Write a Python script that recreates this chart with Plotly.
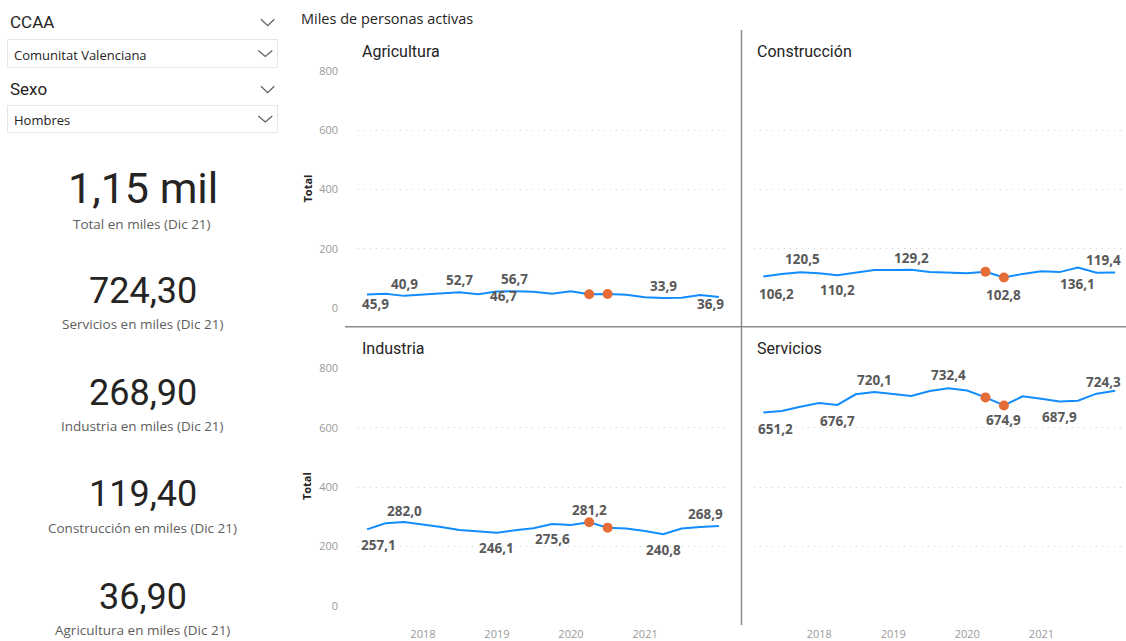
import plotly.graph_objects as go

# ---------------------------------------------------------------------------
# Data: active population (thousands), men, Comunitat Valenciana, by quarter
# ---------------------------------------------------------------------------
QUARTERS = [
    "2017-03-31", "2017-06-30", "2017-09-30", "2017-12-31",
    "2018-03-31", "2018-06-30", "2018-09-30", "2018-12-31",
    "2019-03-31", "2019-06-30", "2019-09-30", "2019-12-31",
    "2020-03-31", "2020-06-30", "2020-09-30", "2020-12-31",
    "2021-03-31", "2021-06-30", "2021-09-30", "2021-12-31",
]

AGRICULTURA = [45.9, 48.3, 40.9, 45.0, 48.3, 52.7, 46.7, 55.5, 56.7, 55.0,
               48.3, 56.3, 46.2, 47.2, 45.0, 36.0, 33.9, 34.2, 43.9, 36.9]
CONSTRUCCION = [106.2, 114.6, 120.5, 116.8, 110.2, 119.0, 128.0, 128.5, 129.2, 121.4,
                119.0, 117.0, 122.4, 102.8, 115.0, 123.5, 121.0, 136.1, 119.0, 119.4]
INDUSTRIA = [257.1, 277.7, 282.0, 274.0, 265.0, 255.0, 251.0, 246.1, 254.0, 260.7,
             275.6, 272.0, 281.2, 263.0, 260.0, 252.0, 240.8, 260.0, 265.0, 268.9]
SERVICIOS = [651.2, 656.0, 670.6, 683.0, 676.7, 712.4, 720.1, 713.4, 706.6, 723.5,
             732.4, 725.0, 702.0, 674.9, 705.6, 697.6, 687.9, 691.0, 714.5, 724.3]

HIGHLIGHT_QUARTERS = ["2020-03-31", "2020-06-30"]

YEAR_TICKS = ["2018", "2019", "2020", "2021"]
Y_TICKS = [0, 200, 400, 600, 800]

CCAA = "Comunitat Valenciana"
SEXO = "Hombres"
PERIODO = "Dic 21"

# ---------------------------------------------------------------------------
# Page geometry helpers (pixels -> paper coordinates)
# ---------------------------------------------------------------------------
W, H = 1126, 641


def px(x):
    return x / W


def py(y):
    return 1 - y / H


BLUE = "#118DFF"
ORANGE = "#E66C37"
TXT = "#252423"
SUB = "#605E5C"
LABEL = "#595959"
TICK = "#9A9A9A"
GRID = "#CFCFCF"

FONT_UI = "Open Sans"
FONT_DIN = "Roboto"


def fmt(v, dec=1):
    return f"{v:.{dec}f}".replace(".", ",")


# panel name, series, axis suffix, x-domain px, y-domain px (top, bottom), title pos,
# label placements (point index, x shift, y shift)
PANELS = [
    ("Agricultura", AGRICULTURA, "", (358, 725), (70.7, 308.0), (360, 51),
     [(0, 9, -10), (2, 0, 12), (5, 0, 12), (6, 25, -2), (8, 0, 12), (16, 0, 12), (19, -8, -7)]),
    ("Construcción", CONSTRUCCION, "2", (754.3, 1121.3), (70.7, 308.0), (755, 51),
     [(0, 13, -17), (2, 2, 13), (4, 0, -15), (8, 0, 12), (13, 0, -17), (17, 0, -16), (19, -12, 13)]),
    ("Industria", INDUSTRIA, "3", (358, 725), (368.3, 605.7), (360, 348),
     [(0, 12, -16), (2, 0, 11), (7, 0, -15), (10, 0, -15), (12, 0, 12), (16, 0, -16), (19, -13, 12)]),
    ("Servicios", SERVICIOS, "4", (754.3, 1121.3), (368.3, 605.7), (755, 348),
     [(0, 12, -17), (4, 0, -16), (6, 0, 12), (10, 0, 13), (13, 0, -15), (16, 0, -15), (19, -12, 9)]),
]

X_RANGE = ["2017-02-14 14:00", "2022-01-30"]

fig = go.Figure()
annotations = []
shapes = []
layout_axes = {}

for name, series, sfx, xdom, ydom, tpos, labels in PANELS:
    xa = "x" + sfx
    ya = "y" + sfx
    fig.add_trace(go.Scatter(
        x=QUARTERS, y=series, mode="lines",
        line=dict(color=BLUE, width=2),
        xaxis=xa, yaxis=ya, hoverinfo="skip", cliponaxis=False,
    ))
    hx = [q for q in QUARTERS if q in HIGHLIGHT_QUARTERS]
    hy = [v for q, v in zip(QUARTERS, series) if q in HIGHLIGHT_QUARTERS]
    fig.add_trace(go.Scatter(
        x=hx, y=hy, mode="markers",
        marker=dict(color=ORANGE, size=10, line=dict(width=0)),
        xaxis=xa, yaxis=ya, hoverinfo="skip", cliponaxis=False,
    ))

    left_col = xdom[0] < 400
    bottom_row = ydom[1] > 400
    layout_axes["xaxis" + sfx] = dict(
        domain=[px(xdom[0]), px(xdom[1])],
        anchor=ya, type="date", range=X_RANGE,
        showgrid=False, zeroline=False, showline=False,
        tickvals=[f"{y}-01-01" for y in YEAR_TICKS], ticktext=YEAR_TICKS,
        showticklabels=bottom_row, ticks="",
        tickfont=dict(family=FONT_UI, size=11, color=TICK),
        ticklabelstandoff=20,
    )
    layout_axes["yaxis" + sfx] = dict(
        domain=[py(ydom[1]), py(ydom[0])],
        anchor=xa, range=[0, 800],
        tickvals=Y_TICKS, ticktext=[str(t) for t in Y_TICKS],
        showgrid=True, gridcolor=GRID, griddash="1px,5px", gridwidth=1,
        zeroline=False, showline=False, ticks="",
        showticklabels=left_col,
        tickfont=dict(family=FONT_UI, size=11, color=TICK),
        ticklabelstandoff=19,
    )

    # panel title
    annotations.append(dict(
        x=px(tpos[0]), y=py(tpos[1]), xref="paper", yref="paper",
        text=name, showarrow=False, xanchor="left", yanchor="middle",
        font=dict(family=FONT_DIN, size=16, color=TXT),
    ))

    # data labels
    for idx, dx, dy in labels:
        annotations.append(dict(
            x=QUARTERS[idx], y=series[idx], xref=xa, yref=ya,
            text=f"<b>{fmt(series[idx])}</b>", showarrow=False,
            xanchor="center", yanchor="middle", xshift=dx, yshift=dy,
            font=dict(family=FONT_UI, size=13.5, color=LABEL),
        ))

    # y-axis title on the left column
    if left_col:
        annotations.append(dict(
            x=px(306.5), y=py(ydom[0] + 118.3),
            xref="paper", yref="paper", text="<b>Total</b>", showarrow=False,
            textangle=-90, xanchor="center", yanchor="middle",
            font=dict(family=FONT_UI, size=11, color=TXT),
        ))

# chart title
annotations.append(dict(
    x=px(299), y=py(18), xref="paper", yref="paper",
    text="Miles de personas activas", showarrow=False,
    xanchor="left", yanchor="middle",
    font=dict(family=FONT_UI, size=14.5, color=TXT),
))

# panel dividers
shapes.append(dict(type="line", xref="paper", yref="paper",
                   x0=px(741.5), x1=px(741.5), y0=py(30), y1=py(625),
                   line=dict(color="#8C8C8C", width=1.5)))
shapes.append(dict(type="line", xref="paper", yref="paper",
                   x0=px(345), x1=px(1126), y0=py(326.8), y1=py(326.8),
                   line=dict(color="#8C8C8C", width=1.5)))

# ---------------------------------------------------------------------------
# Slicers
# ---------------------------------------------------------------------------


def chevron(x0, x1, ytop, ybot):
    xm = (x0 + x1) / 2
    return dict(type="path", xref="paper", yref="paper",
                path=f"M {px(x0)},{py(ytop)} L {px(xm)},{py(ybot)} L {px(x1)},{py(ytop)}",
                line=dict(color=SUB, width=1.2))


for title, value, ty, box in [("CCAA", CCAA, 22, (39.5, 67.5)),
                              ("Sexo", SEXO, 89, (105.5, 132.5))]:
    annotations.append(dict(
        x=px(8), y=py(ty), xref="paper", yref="paper", text=title,
        showarrow=False, xanchor="left", yanchor="middle",
        font=dict(family=FONT_DIN, size=17, color=TXT),
    ))
    shapes.append(chevron(261, 274.3, ty - 2.7, ty + 3.7))
    shapes.append(dict(type="rect", xref="paper", yref="paper",
                       x0=px(7.5), x1=px(277.5), y0=py(box[1]), y1=py(box[0]),
                       line=dict(color="#E6E6E6", width=1), fillcolor="white"))
    by = (box[0] + box[1]) / 2
    annotations.append(dict(
        x=px(12), y=py(by + 1), xref="paper", yref="paper", text=value,
        showarrow=False, xanchor="left", yanchor="middle",
        font=dict(family=FONT_UI, size=13, color=TXT),
    ))
    shapes.append(chevron(258.3, 272.3, by - 3, by + 3))

# ---------------------------------------------------------------------------
# KPI cards (latest quarter)
# ---------------------------------------------------------------------------
total_last = AGRICULTURA[-1] + CONSTRUCCION[-1] + INDUSTRIA[-1] + SERVICIOS[-1]
cards = [
    (f"{fmt(total_last / 1000, 2)} mil", f"Total en miles ({PERIODO})", 187, 224, 43),
    (fmt(SERVICIOS[-1], 2), f"Servicios en miles ({PERIODO})", 290, 323.5, 36),
    (fmt(INDUSTRIA[-1], 2), f"Industria en miles ({PERIODO})", 392, 425.5, 36),
    (fmt(CONSTRUCCION[-1], 2), f"Construcción en miles ({PERIODO})", 493, 527.5, 36),
    (fmt(AGRICULTURA[-1], 2), f"Agricultura en miles ({PERIODO})", 595.5, 630, 36),
]
for val, sub, vy, sy, size in cards:
    annotations.append(dict(
        x=px(143), y=py(vy + 1), xref="paper", yref="paper", text=val,
        showarrow=False, xanchor="center", yanchor="middle",
        font=dict(family=FONT_DIN, size=size, color=TXT),
    ))
    annotations.append(dict(
        x=px(142), y=py(sy), xref="paper", yref="paper", text=sub,
        showarrow=False, xanchor="center", yanchor="middle",
        font=dict(family=FONT_UI, size=13.5, color=SUB),
    ))

fig.update_layout(
    width=W, height=H, autosize=False,
    margin=dict(l=0, r=0, t=0, b=0, pad=0, autoexpand=False),
    paper_bgcolor="white", plot_bgcolor="white",
    showlegend=False,
    annotations=annotations, shapes=shapes,
    **layout_axes,
)

fig.write_html("out.html", config={"displayModeBar": False})
